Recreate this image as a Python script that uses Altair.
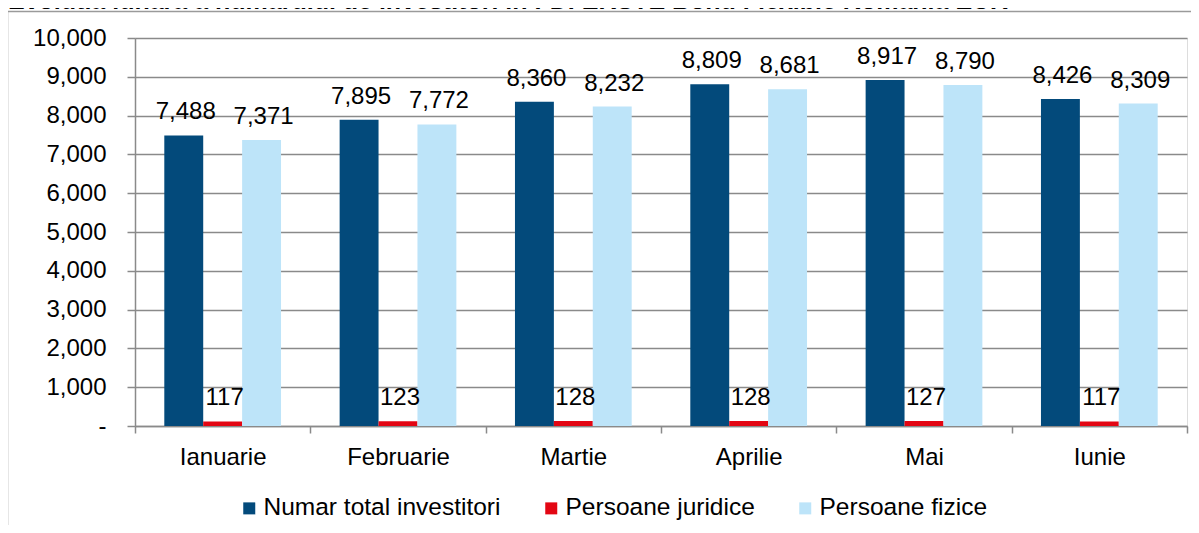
import altair as alt
import pandas as pd

title_text = "Evolutia lunara a numarului de investitori in FDI ERSTE Bond Flexible Romania EUR"
months = ["Ianuarie", "Februarie", "Martie", "Aprilie", "Mai", "Iunie"]
series = ["Numar total investitori", "Persoane juridice", "Persoane fizice"]
total = [7488, 7895, 8360, 8809, 8917, 8426]
juridice = [117, 123, 128, 128, 127, 117]
fizice = [7371, 7772, 8232, 8681, 8790, 8309]
colors = ["#034a7b", "#e30613", "#bde4f9"]
y_ticks = [0, 1000, 2000, 3000, 4000, 5000, 6000, 7000, 8000, 9000, 10000]

rows = []
for i, m in enumerate(months):
    for s, vals in zip(series, [total, juridice, fizice]):
        rows.append({"luna": m, "serie": s, "valoare": vals[i]})
df = pd.DataFrame(rows)

FONT = "Liberation Sans"
GRAY = "#8a8a8a"

x_enc = alt.X(
    "luna:N", sort=months,
    scale=alt.Scale(paddingInner=0, paddingOuter=0),
    axis=alt.Axis(title=None, labelAngle=0, tickBand="extent", tickSize=7,
                  labelPadding=12, labelFontSize=24, labelFont=FONT,
                  labelColor="black", domainColor=GRAY, tickColor=GRAY,
                  domainWidth=1.5, tickWidth=1.5, grid=False),
)
xoff = alt.XOffset("serie:N", sort=series,
                   scale=alt.Scale(paddingOuter=0.753, paddingInner=0))
y_enc = alt.Y(
    "valoare:Q",
    scale=alt.Scale(domain=[0, 10000], nice=False),
    axis=alt.Axis(title=None, values=y_ticks, tickCount=len(y_ticks),
                  labelOverlap=False,
                  labelExpr="datum.value == 0 ? '-\u00a0\u00a0' : format(datum.value, ',')",
                  tickSize=8, labelPadding=21, labelFontSize=24, labelFont=FONT,
                  labelColor="black", domainColor=GRAY, tickColor=GRAY,
                  domainWidth=1.5, tickWidth=1.5, grid=True, gridColor=GRAY,
                  gridWidth=1.5),
)

bars = alt.Chart(df).mark_bar().encode(
    x=x_enc, xOffset=xoff, y=y_enc,
    color=alt.Color("serie:N", sort=series,
                    scale=alt.Scale(domain=series, range=colors),
                    legend=alt.Legend(title=None, orient="none", legendX=102,
                                      legendY=458, direction="horizontal",
                                      symbolType="square", symbolSize=144,
                                      symbolStrokeWidth=0, labelFontSize=24.5,
                                      labelFont=FONT, labelColor="black",
                                      labelOffset=2, columnPadding=38,
                                      labelLimit=600)),
)

labels = alt.Chart(df).mark_text(
    baseline="alphabetic", dy=-16, dx=2, fontSize=24, font=FONT, color="black"
).encode(
    x=x_enc, xOffset=xoff, y=y_enc,
    text=alt.Text("valoare:Q", format=","),
)

frame_data = alt.Data(values=[{"t": title_text}])
frame_left = alt.Chart(frame_data).mark_rule(color="#9a9a9a", strokeWidth=1.5).encode(
    x=alt.value(-127.5), y=alt.value(-26.5), y2=alt.value(487))
frame_top = alt.Chart(frame_data).mark_rule(color="#9a9a9a", strokeWidth=1.5).encode(
    x=alt.value(-127.5), x2=alt.value(1056), y=alt.value(-26.5))
title = alt.Chart(frame_data).mark_text(
    align="left", baseline="alphabetic", fontSize=25, fontWeight="bold",
    font=FONT, color="black"
).encode(x=alt.value(-127), y=alt.value(-29.5), text="t:N")

chart = alt.layer(bars, labels, frame_left, frame_top, title).properties(
    width=1052, height=388,
    autosize=alt.AutoSizeParams(type="none"),
    padding={"left": 127, "top": 30, "right": 4, "bottom": 99},
).configure_view(stroke=None).configure(background="white")

chart.save("out.html", embed_options={"renderer": "svg", "actions": False})
